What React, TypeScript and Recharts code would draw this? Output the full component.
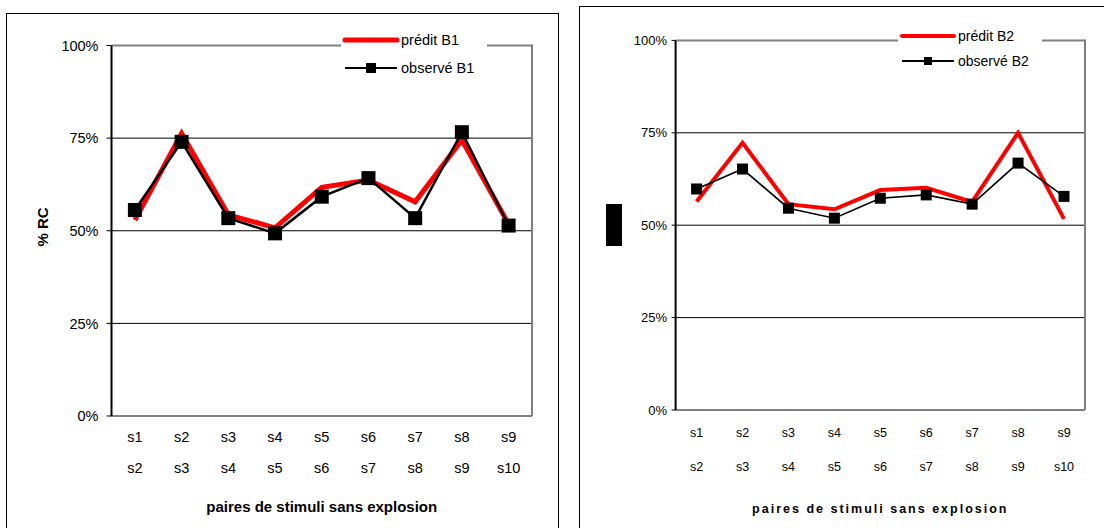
import React from 'react'
import { LineChart, Line, XAxis, YAxis, CartesianGrid, Legend } from 'recharts'

// paires de stimuli (deux lignes par étiquette)
const PAIR_FIRST = ['s1', 's2', 's3', 's4', 's5', 's6', 's7', 's8', 's9']
const PAIR_SECOND = ['s2', 's3', 's4', 's5', 's6', 's7', 's8', 's9', 's10']
const Y_TICKS = [0, 25, 50, 75, 100]

// % RC, bloc 1
const PREDIT_B1 = [52.9, 76.3, 54.3, 50.8, 61.7, 63.7, 57.8, 74.5, 51.8]
const OBSERVE_B1 = [55.6, 74.0, 53.4, 49.3, 59.2, 64.2, 53.4, 76.6, 51.4]
// % RC, bloc 2
const PREDIT_B2 = [56.4, 72.3, 55.7, 54.3, 59.5, 60.1, 56.3, 75.0, 51.7]
const OBSERVE_B2 = [59.8, 65.2, 54.6, 51.9, 57.3, 58.2, 55.7, 66.8, 57.8]

const FONT = '"Liberation Sans", Arial, sans-serif'
const GREY = '#808080'

function buildRows(predit: number[], observe: number[]) {
  return PAIR_FIRST.map((a, i) => ({
    pair: `${a} ${PAIR_SECOND[i]}`,
    predit: predit[i],
    observe: observe[i],
  }))
}

interface PanelCfg {
  left: number
  width: number
  height: number
  margin: { top: number; right: number; bottom: number; left: number }
  yAxisW: number
  xAxisH: number
  pad: number
  tickFont: number
  yTickFont: number
  tickSize: number
  tickMargin: number
  row1: number
  row2: number
  titleFont: number
  titleSpacing: number
  titleOffset: number
  redW: number
  blackW: number
  square: number
  legend: { left: number; top: number; width: number; rowH: number; swatch: number; font: number; square: number; redW: number }
  predName: string
  obsName: string
}

const LEFT_CFG: PanelCfg = {
  left: 0,
  width: 560,
  height: 528,
  margin: { top: 45.5, right: 28, bottom: 52, left: 51.5 },
  yAxisW: 60,
  xAxisH: 60,
  pad: 23.4,
  tickFont: 14.5,
  yTickFont: 14.5,
  tickSize: 5,
  tickMargin: 8,
  row1: 26,
  row2: 57,
  titleFont: 15,
  titleSpacing: 0,
  titleOffset: 27,
  redW: 5,
  blackW: 2.5,
  square: 14,
  legend: { left: 341, top: 26, width: 146, rowH: 28, swatch: 52, font: 14.5, square: 10, redW: 5 },
  predName: 'prédit B1',
  obsName: 'observé B1',
}

const RIGHT_CFG: PanelCfg = {
  left: 570,
  width: 534,
  height: 528,
  margin: { top: 40.4, right: 19, bottom: 58, left: 45.6 },
  yAxisW: 60,
  xAxisH: 60,
  pad: 21,
  tickFont: 12.5,
  yTickFont: 13,
  tickSize: 4,
  tickMargin: 4.5,
  row1: 27,
  row2: 60.5,
  titleFont: 12.5,
  titleSpacing: 2,
  titleOffset: 36,
  redW: 4,
  blackW: 1.6,
  square: 11,
  legend: { left: 328, top: 23, width: 144, rowH: 25.5, swatch: 52, font: 14, square: 8, redW: 4 },
  predName: 'prédit B2',
  obsName: 'observé B2',
}

function Panel({ cfg, predit, observe, yLabel }: { cfg: PanelCfg; predit: number[]; observe: number[]; yLabel: boolean }) {
  const data = buildRows(predit, observe)
  const plotBottom = cfg.height - cfg.margin.bottom - cfg.xAxisH
  const half = cfg.square / 2

  const renderTick = (props: any) => {
    const { x, y, payload } = props
    const [a, b] = String(payload.value).split(' ')
    return (
      <g>
        <text x={x} y={y + cfg.row1} textAnchor="middle" fill="#000" fontSize={cfg.tickFont} fontFamily={FONT}>{a}</text>
        <text x={x} y={y + cfg.row2} textAnchor="middle" fill="#000" fontSize={cfg.tickFont} fontFamily={FONT}>{b}</text>
      </g>
    )
  }

  const renderSquare = (props: any) => {
    const { cx, cy, index } = props
    if (cx == null || cy == null) return <g key={`d-${index}`} />
    return <rect key={`d-${index}`} x={cx - half} y={cy - half} width={cfg.square} height={cfg.square} fill="#000" />
  }

  // horizontal grid: black, except the top edge of the plot frame (grey)
  const renderHLine = (p: any) => {
    const isTop = Math.abs(p.y1 - p.y) < 0.6
    return (
      <line
        key={p.key ?? `h-${p.index}`}
        x1={p.x1}
        x2={p.x2}
        y1={p.y1}
        y2={p.y2}
        stroke={isTop ? GREY : '#000'}
        strokeWidth={isTop ? 2 : 1}
      />
    )
  }
  // right edge of the plot frame
  const renderVLine = (p: any) => (
    <line key={p.key ?? `v-${p.index}`} x1={p.x1} x2={p.x2} y1={p.y1 - 1} y2={p.y2} stroke={GREY} strokeWidth={2} />
  )

  const lg = cfg.legend
  const renderLegend = (props: any) => {
    const items = [...(props.payload || [])].sort((a: any, b: any) =>
      a.dataKey === 'predit' ? -1 : b.dataKey === 'predit' ? 1 : 0,
    )
    return (
      <div style={{ background: '#fff', width: lg.width, fontFamily: FONT, fontSize: lg.font, color: '#000' }}>
        {items.map((entry: any) => {
          const isPred = entry.dataKey === 'predit'
          return (
            <div key={entry.value} style={{ display: 'flex', alignItems: 'center', height: lg.rowH }}>
              <svg width={lg.swatch + 8} height={14} style={{ display: 'block' }}>
                <line
                  x1={4}
                  x2={lg.swatch + 4}
                  y1={7}
                  y2={7}
                  stroke={isPred ? '#ff0000' : '#000'}
                  strokeWidth={isPred ? lg.redW : 2}
                  strokeLinecap={isPred ? 'round' : 'butt'}
                />
                {!isPred && (
                  <rect x={4 + lg.swatch / 2 - lg.square / 2} y={7 - lg.square / 2} width={lg.square} height={lg.square} fill="#000" />
                )}
              </svg>
              <span style={{ whiteSpace: 'nowrap', lineHeight: 1 }}>{entry.value}</span>
            </div>
          )
        })}
      </div>
    )
  }

  const renderYLabel = () => {
    if (yLabel) {
      const cx = 42
      const cy = 227
      return (
        <text
          x={cx}
          y={cy}
          transform={`rotate(-90 ${cx} ${cy})`}
          textAnchor="middle"
          dominantBaseline="central"
          fontWeight="bold"
          fontSize={15}
          fontFamily={FONT}
          fill="#000"
        >
          % RC
        </text>
      )
    }
    return <rect x={36} y={204} width={16} height={42} fill="#000" />
  }

  const renderXTitle = (props: any) => {
    const vb = props.viewBox || {}
    const cx = vb.x + vb.width / 2
    return (
      <text
        x={cx}
        y={plotBottom + cfg.xAxisH + cfg.titleOffset - 2}
        textAnchor="middle"
        fontWeight="bold"
        fontSize={cfg.titleFont}
        fontFamily={FONT}
        letterSpacing={cfg.titleSpacing}
        fill="#000"
        dominantBaseline="hanging"
      >
        paires de stimuli sans explosion
      </text>
    )
  }

  return (
    <div style={{ position: 'absolute', left: cfg.left, top: 0 }}>
      <LineChart width={cfg.width} height={cfg.height} data={data} margin={cfg.margin}>
        <CartesianGrid
          horizontal={renderHLine}
          vertical={renderVLine}
          verticalCoordinatesGenerator={({ offset }: any) => [offset.left + offset.width]}
        />
        <XAxis
          dataKey="pair"
          height={cfg.xAxisH}
          interval={0}
          padding={{ left: cfg.pad, right: cfg.pad }}
          axisLine={{ stroke: GREY, strokeWidth: 2 }}
          tickLine={false}
          tickSize={0}
          tickMargin={0}
          tick={renderTick}
          label={{ content: renderXTitle }}
        />
        <YAxis
          type="number"
          domain={[0, 100]}
          ticks={Y_TICKS}
          interval={0}
          width={cfg.yAxisW}
          tickFormatter={(v: number) => `${v}%`}
          axisLine={{ stroke: '#000', strokeWidth: 2 }}
          tickLine={{ stroke: '#000' }}
          tickSize={cfg.tickSize}
          tickMargin={cfg.tickMargin}
          tick={{ fill: '#000', fontSize: cfg.yTickFont, fontFamily: FONT }}
          label={{ content: renderYLabel }}
        />
        <Legend
          layout="horizontal"
          verticalAlign="middle"
          align="center"
          content={renderLegend}
          wrapperStyle={{ position: 'absolute', left: lg.left, top: lg.top, width: lg.width }}
        />
        <Line
          dataKey="predit"
          name={cfg.predName}
          stroke="#ff0000"
          strokeWidth={cfg.redW}
          dot={false}
          activeDot={false}
          isAnimationActive={false}
        />
        <Line
          dataKey="observe"
          name={cfg.obsName}
          stroke="#000"
          strokeWidth={cfg.blackW}
          dot={renderSquare}
          activeDot={false}
          isAnimationActive={false}
        />
      </LineChart>
    </div>
  )
}

export default function App() {
  return (
    <div style={{ position: 'absolute', left: 0, top: 0, width: 1104, height: 528, overflow: 'hidden', background: '#fff' }}>
      <div style={{ position: 'absolute', left: 6, top: 13, width: 551, height: 600, border: '1px solid #000' }} />
      <div style={{ position: 'absolute', left: 579, top: 6, width: 600, height: 600, border: '1px solid #000' }} />
      <Panel cfg={LEFT_CFG} predit={PREDIT_B1} observe={OBSERVE_B1} yLabel={true} />
      <Panel cfg={RIGHT_CFG} predit={PREDIT_B2} observe={OBSERVE_B2} yLabel={false} />
    </div>
  )
}
